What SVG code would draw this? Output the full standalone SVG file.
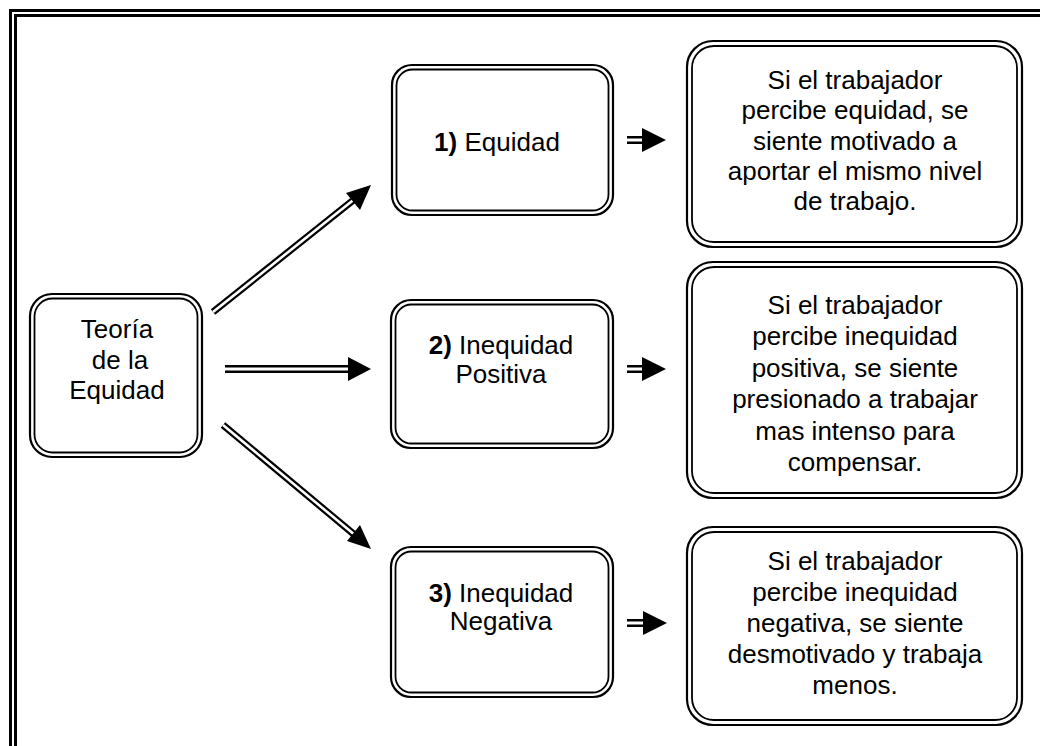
<svg xmlns="http://www.w3.org/2000/svg" width="1040" height="746" viewBox="0 0 1040 746">
<style>
.o{fill:none;stroke:#000;stroke-width:2.2}
.i{fill:none;stroke:#000;stroke-width:1.8}
.t{font-family:"Liberation Sans",Arial,sans-serif;font-size:26px;fill:#000;text-anchor:middle}
.b{font-weight:bold}
.lk{stroke:#000;fill:none}
.lw{stroke:#fff;fill:none}
.ah{fill:#000}
</style>
<rect width="1040" height="746" fill="#fff"/>
<g id="frame">
<path d="M10.5,760 V10.5 H1060" fill="none" stroke="#000" stroke-width="3"/>
<path d="M15.5,760 V15.5 H1060" fill="none" stroke="#000" stroke-width="3"/>
</g>
<g id="connectors">
<line class="lk" x1="213" y1="312" x2="356" y2="198" stroke-width="7"/>
<line class="lw" x1="213" y1="312" x2="354" y2="199.6" stroke-width="2.6"/>
<polygon class="ah" points="371,185 346,193 360,210"/>
<line class="lk" x1="225" y1="369" x2="352" y2="369" stroke-width="8"/>
<line class="lw" x1="225" y1="369" x2="350" y2="369" stroke-width="3"/>
<polygon class="ah" points="371,369 348,357 348,381"/>
<line class="lk" x1="223" y1="425" x2="356" y2="536" stroke-width="7"/>
<line class="lw" x1="223" y1="425" x2="354" y2="534.3" stroke-width="2.6"/>
<polygon class="ah" points="371,549 347,541 360,525"/>
<g id="a1"><line class="lk" x1="627" y1="140" x2="646" y2="140" stroke-width="8"/><line class="lw" x1="627" y1="140" x2="644" y2="140" stroke-width="3"/><polygon class="ah" points="666,140 642,128 642,152"/></g>
<g id="a2"><line class="lk" x1="627" y1="369" x2="646" y2="369" stroke-width="8"/><line class="lw" x1="627" y1="369" x2="644" y2="369" stroke-width="3"/><polygon class="ah" points="666,369 642,357 642,381"/></g>
<g id="a3"><line class="lk" x1="627" y1="623" x2="646" y2="623" stroke-width="8"/><line class="lw" x1="627" y1="623" x2="644" y2="623" stroke-width="3"/><polygon class="ah" points="667,623 643,611 643,635"/></g>
</g>
<g id="teoria">
<rect class="o" x="30" y="294" width="172" height="163" rx="22"/>
<rect class="i" x="34.5" y="298.5" width="163" height="154" rx="18"/>
<text class="t" x="117" y="338">Teoría</text>
<text class="t" x="120" y="369">de la</text>
<text class="t" x="117" y="399">Equidad</text>
</g>
<g id="equidad">
<rect class="o" x="392" y="65" width="221" height="150" rx="20"/>
<rect class="i" x="396.5" y="69.5" width="212" height="141" rx="16"/>
<text class="t" x="497" y="151"><tspan class="b">1)</tspan> Equidad</text>
</g>
<g id="inequidad-positiva">
<rect class="o" x="391" y="300" width="222" height="148" rx="20"/>
<rect class="i" x="395.5" y="304.5" width="213" height="139" rx="16"/>
<text class="t" x="501" y="354"><tspan class="b">2)</tspan> Inequidad</text>
<text class="t" x="501" y="383">Positiva</text>
</g>
<g id="inequidad-negativa">
<rect class="o" x="391" y="547" width="222" height="150" rx="20"/>
<rect class="i" x="395.5" y="551.5" width="213" height="141" rx="16"/>
<text class="t" x="501" y="602"><tspan class="b">3)</tspan> Inequidad</text>
<text class="t" x="501" y="630">Negativa</text>
</g>
<g id="desc1">
<rect class="o" x="687" y="41" width="335" height="206" rx="26"/>
<rect class="i" x="692" y="46" width="325" height="196" rx="22"/>
<text class="t" x="855" y="89">Si el trabajador</text>
<text class="t" x="855" y="119">percibe equidad, se</text>
<text class="t" x="855" y="150">siente motivado a</text>
<text class="t" x="855" y="180">aportar el mismo nivel</text>
<text class="t" x="855" y="210">de trabajo.</text>
</g>
<g id="desc2">
<rect class="o" x="687" y="262" width="335" height="236" rx="26"/>
<rect class="i" x="692" y="267" width="325" height="226" rx="22"/>
<text class="t" x="855" y="314">Si el trabajador</text>
<text class="t" x="855" y="345">percibe inequidad</text>
<text class="t" x="855" y="377">positiva, se siente</text>
<text class="t" x="855" y="408">presionado a trabajar</text>
<text class="t" x="855" y="440">mas intenso para</text>
<text class="t" x="855" y="471">compensar.</text>
</g>
<g id="desc3">
<rect class="o" x="687" y="527" width="335" height="198" rx="26"/>
<rect class="i" x="692" y="532" width="325" height="188" rx="22"/>
<text class="t" x="855" y="570">Si el trabajador</text>
<text class="t" x="855" y="601">percibe inequidad</text>
<text class="t" x="855" y="632">negativa, se siente</text>
<text class="t" x="855" y="663">desmotivado y trabaja</text>
<text class="t" x="855" y="694">menos.</text>
</g>
</svg>
